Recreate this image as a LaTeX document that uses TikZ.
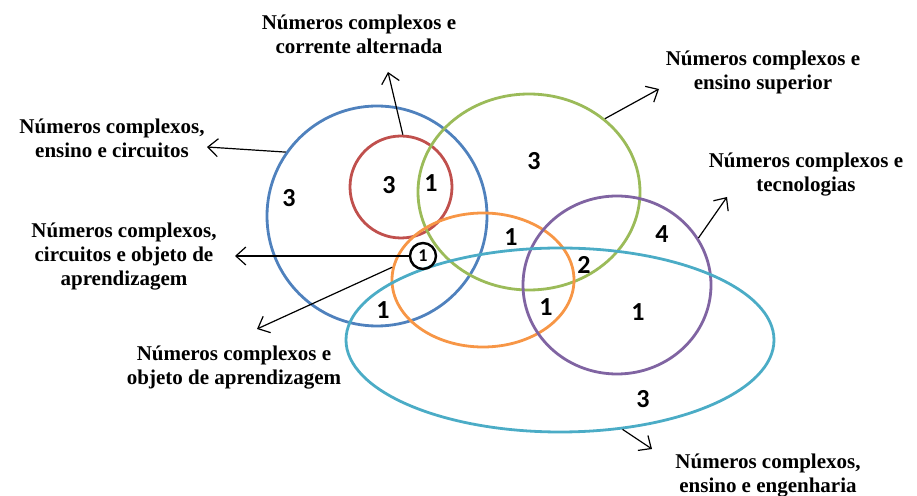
\documentclass[tikz,border=0pt]{standalone}
\usepackage{fontspec}
\setmainfont{Liberation Serif}
\newfontfamily\numfont{Carlito}
\usetikzlibrary{shapes.geometric,arrows.meta}

\definecolor{azul}{HTML}{4F81BD}
\definecolor{vermelho}{HTML}{C0504D}
\definecolor{verde}{HTML}{9BBB59}
\definecolor{laranja}{HTML}{F79646}
\definecolor{roxo}{HTML}{8064A2}
\definecolor{ciano}{HTML}{4BACC6}

\begin{document}
\begin{tikzpicture}[x=0.5pt, y=-0.5pt,
        conj/.style={draw, ellipse, line width=1.4pt, inner sep=0pt},
        rotulo/.style={font=\bfseries\fontsize{10.5}{12}\selectfont, align=center},
        num/.style={font=\numfont\bfseries\fontsize{13}{13}\selectfont},
        seta/.style={-{Straight Barb[length=5pt,width=9pt]}, line width=0.6pt}]
        \useasboundingbox (0, 0) rectangle (917, 496);

        % conjuntos
        \node[conj, azul, minimum width=110pt, minimum height=110pt] (circ) at (377, 216) {};
        \node[conj, vermelho, minimum width=51pt, minimum height=51pt] (alt) at (401, 187) {};
        \node[conj, verde, minimum width=111pt, minimum height=98pt] (sup) at (529, 192) {};
        \node[conj, laranja, minimum width=91pt, minimum height=67pt] (obj) at (483, 280) {};
        \node[conj, roxo, minimum width=94pt, minimum height=89pt] (tec) at (617, 285) {};
        \node[conj, ciano, minimum width=214pt, minimum height=92pt] (eng) at (560, 340) {};
        \node[draw, circle, line width=1.2pt, inner sep=0pt, minimum size=13pt,
              font=\numfont\bfseries\fontsize{9}{9}\selectfont] (um) at (423, 256) {1};

        % quantidades
        \node[num] (n1) at (289, 198) {3};
        \node[num] (n2) at (389, 185) {3};
        \node[num] (n3) at (431, 183) {1};
        \node[num] (n4) at (534, 161) {3};
        \node[num] (n5) at (511, 237) {1};
        \node[num] (n6) at (584, 265) {2};
        \node[num] (n7) at (662, 234) {4};
        \node[num] (n8) at (383, 310) {1};
        \node[num] (n9) at (546, 307) {1};
        \node[num] (n10) at (638, 312) {1};
        \node[num] (n11) at (643, 399) {3};

        % rotulos
        \node[rotulo] (r1) at (359, 34) {Números complexos e\\corrente alternada};
        \node[rotulo] (r2) at (763, 72) {Números complexos e\\ensino superior};
        \node[rotulo] (r3) at (112, 138) {Números complexos,\\ensino e circuitos};
        \node[rotulo] (r4) at (806, 175) {Números complexos e\\tecnologias};
        \node[rotulo] (r5) at (124, 257) {Números complexos,\\circuitos e objeto de\\aprendizagem};
        \node[rotulo] (r6) at (234, 368) {Números complexos e\\objeto de aprendizagem};
        \node[rotulo] (r7) at (768, 476) {Números complexos,\\ensino e engenharia};

        \coordinate (p1) at (388, 72);
        \coordinate (p2) at (659, 89);
        \coordinate (p3) at (207, 147);
        \coordinate (p4) at (727, 197);
        \coordinate (p5) at (235, 256);
        \coordinate (p6) at (257, 329);
        \coordinate (p7) at (652, 449);

        \draw[seta] (alt.88) -- (p1);
        \draw[seta] (sup.44) -- (p2);
        \draw[seta] (circ.145) -- (p3);
        \draw[seta] (tec.30) -- (p4);
        \draw[seta] (um.west) -- (p5);
        \draw[seta] (obj.172) -- (p6);
        \draw[seta] (eng.-55) -- (p7);
    \end{tikzpicture}
\end{document}
